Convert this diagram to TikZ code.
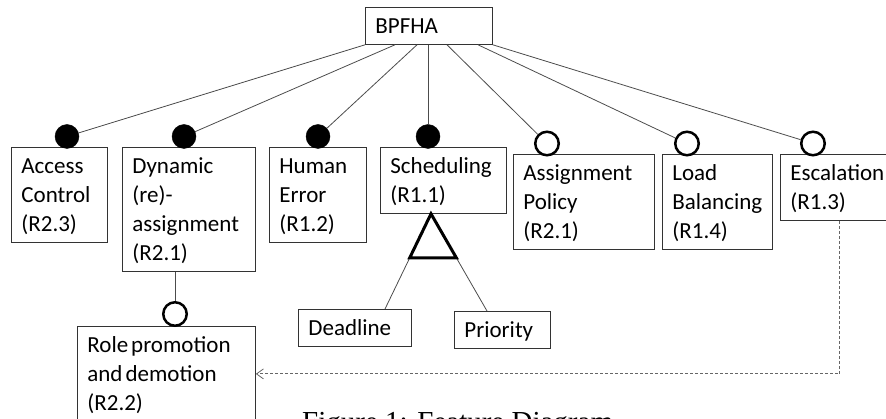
\documentclass[tikz,border=0pt]{standalone}
\usepackage{fontspec}
\setmainfont{Carlito}
\newfontfamily\capfont{Liberation Serif}
\usetikzlibrary{calc,arrows.meta}
\begin{document}
\begin{tikzpicture}[x=1pt,y=-1pt,
  feat/.style={draw=black!80, line width=0.8pt, anchor=north west,
    inner xsep=10pt, inner ysep=0pt, align=left,
    font=\fontsize{23}{29}\selectfont,
    execute at begin node={\rule{0pt}{26pt}},
    execute at end node={\rule[-11pt]{0pt}{11pt}}},
  mand/.style={circle, fill=black, draw=black, line width=0.4pt,
    minimum size=24pt, inner sep=0pt},
  opt/.style={circle, fill=white, draw=black, line width=2.5pt,
    minimum size=23.5pt, inner sep=0pt},
  link/.style={draw=black!70, line width=0.8pt},
  altgrp/.style={draw=black, line width=3pt, line join=miter},
  xlink/.style={draw=black!60, line width=0.8pt, dash pattern=on 3pt off 2pt,
    -{Straight Barb[length=7pt,width=10pt,line width=0.8pt]}},
]
\useasboundingbox (0,0) rectangle (886,419);
\clip (0,0) rectangle (886,419);

% root feature
\node[feat, text width=107pt] (root) at (365,7) {BPFHA};

% sub-features
\node[feat, text width=76pt]  (ac)  at (11,147)  {Access\\Control\\(R2.3)};
\node[feat, text width=113pt] (dyn) at (122,147) {Dynamic\\(re)-\\assignment\\(R2.1)};
\node[feat, text width=77pt]  (he)  at (269,147) {Human\\Error\\(R1.2)};
\node[feat, text width=106pt] (sch) at (380,147) {Scheduling\\(R1.1)};
\node[feat, text width=121pt] (ap)  at (513,154) {Assignment\\Policy\\(R2.1)};
\node[feat, text width=90pt]  (lb)  at (662,154) {Load\\Balancing\\(R1.4)};
\node[feat, text width=98pt]  (esc) at (780,154) {Escalation\\(R1.3)};
\node[feat, text width=93pt]  (dl)  at (298,309) {Deadline};
\node[feat, text width=76pt]  (pr)  at (454,311) {Priority};
\node[feat, text width=158pt] (role) at (77,326) {Role\hspace{3pt}promotion\\and\hspace{3pt}demotion\\(R2.2)};

% mandatory / optional markers
\node[mand] (mac)  at (67,136.5)  {};
\node[mand] (mdyn) at (184,136.5) {};
\node[mand] (mhe)  at (318,136.5) {};
\node[mand] (msch) at (428,136.5) {};
\node[opt]  (oap)  at (547,143.5) {};
\node[opt]  (olb)  at (687,143.5) {};
\node[opt]  (oesc) at (813,143.5) {};
\node[opt]  (orole) at (175,314)  {};

% attachment points on the root
\coordinate (r1) at (root.south west);
\coordinate (r2) at ($(root.south west)+(30,0)$);
\coordinate (r3) at ($(root.south west)+(52,0)$);
\coordinate (r4) at ($(root.south west)+(63,0)$);
\coordinate (r5) at ($(root.south west)+(82,0)$);
\coordinate (r6) at ($(root.south west)+(113,0)$);
\coordinate (r7) at (root.south east);

\draw[link] (r1) -- (mac);
\draw[link] (r2) -- (mdyn);
\draw[link] (r3) -- (mhe);
\draw[link] (r4) -- (msch);
\draw[link] (r5) -- (oap);
\draw[link] (r6) -- (olb);
\draw[link] (r7) -- (oesc);
\draw[link] (dyn.south -| orole) -- (orole);

% alternative group under Scheduling
\coordinate (apex) at ($(sch.south west)+(51,0)$);
\coordinate (dltop) at ($(dl.north west)+(87,0)$);
\coordinate (prtop) at ($(pr.north west)+(33,0)$);
\draw[link] (apex) -- (dltop);
\draw[link] (apex) -- (prtop);
\draw[altgrp] (apex) -- ($(apex)!0.463!(dltop)$) -- ($(apex)!0.454!(prtop)$) -- cycle;

% cross-tree dependency
\draw[xlink] (esc.south) |- (role.east);

% caption
\node[anchor=base west, inner sep=0pt, font=\capfont\fontsize{29}{33}\selectfont] (cap) at (302,431) {Figure 1: Feature Diagram};
\end{tikzpicture}
\end{document}
